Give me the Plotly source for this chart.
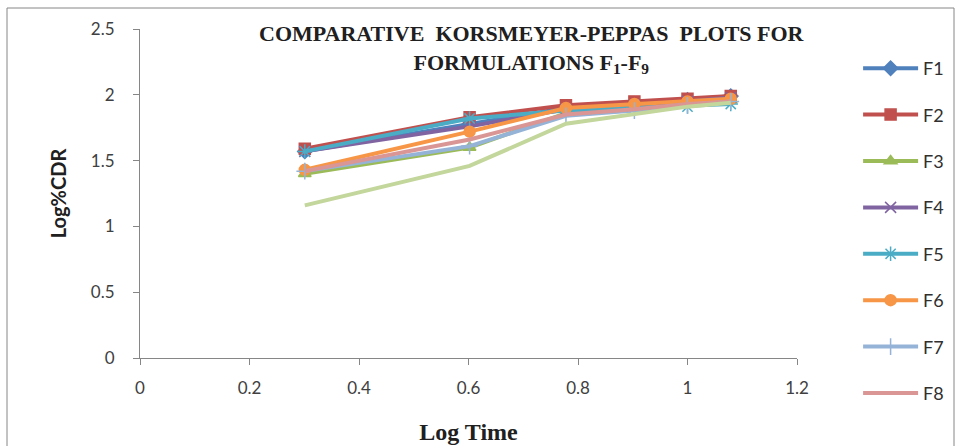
import plotly.graph_objects as go

# Log time (log of 2, 4, 6, 8, 10, 12 h)
log_time = [0.301, 0.602, 0.778, 0.903, 1.0, 1.079]

# Log % cumulative drug release per formulation
f1 = [1.57, 1.78, 1.90, 1.93, 1.96, 1.99]
f2 = [1.59, 1.83, 1.92, 1.95, 1.97, 1.99]
f3 = [1.40, 1.60, 1.86, 1.90, 1.93, 1.96]
f4 = [1.57, 1.76, 1.89, 1.92, 1.95, 1.98]
f5 = [1.57, 1.82, 1.88, 1.90, 1.91, 1.93]
f6 = [1.43, 1.72, 1.90, 1.93, 1.95, 1.97]
f7 = [1.42, 1.61, 1.84, 1.88, 1.92, 1.95]
f8 = [1.42, 1.66, 1.85, 1.89, 1.93, 1.95]
f9 = [1.16, 1.46, 1.78, 1.85, 1.91, 1.94]

series = [
    ("F1", f1, "#4F81BD", "diamond", 11, True),
    ("F2", f2, "#C0504D", "square", 11, True),
    ("F3", f3, "#9BBB59", "triangle-up", 11, True),
    ("F4", f4, "#8064A2", "x-thin-open", 11, True),
    ("F5", f5, "#4BACC6", "asterisk-open", 12, True),
    ("F6", f6, "#F79646", "circle", 11, True),
    ("F7", f7, "#95B3D7", "cross-thin-open", 12, True),
    ("F8", f8, "#D99694", None, 0, True),
    ("F9", f9, "#C3D69B", None, 0, False),
]

fig = go.Figure()
for name, vals, color, symbol, size, in_legend in series:
    if symbol:
        mode = "lines+markers"
        marker = dict(symbol=symbol, size=size, color=color,
                      line=dict(color=color, width=1.5))
    else:
        mode = "lines"
        marker = None
    fig.add_trace(go.Scatter(
        x=log_time, y=vals, name=name, mode=mode,
        line=dict(color=color, width=4),
        marker=marker, legendgroup=name, showlegend=in_legend,
    ))

tick_font = dict(family="Lato, Open Sans, sans-serif", size=17, color="#404040")
serif = "Liberation Serif, Times New Roman, serif"

PLOT_L, PLOT_R, PLOT_T, PLOT_B = 140, 797, 29, 358
W = PLOT_R - PLOT_L
H = PLOT_B - PLOT_T

fig.update_layout(
    width=960, height=446,
    margin=dict(l=PLOT_L, r=960 - PLOT_R, t=PLOT_T, b=446 - PLOT_B, autoexpand=False),
    paper_bgcolor="white", plot_bgcolor="white",
    showlegend=True,
    legend=dict(
        x=1.093, xanchor="left", y=1 - 21 / H, yanchor="top",
        font=dict(family="Lato, Open Sans, sans-serif", size=18, color="#303030"),
        itemwidth=55, tracegroupgap=20, bgcolor="rgba(0,0,0,0)",
        maxheight=440,
    ),
    xaxis=dict(
        range=[0, 1.2], tickvals=[0, 0.2, 0.4, 0.6, 0.8, 1, 1.2],
        ticktext=["0", "0.2", "0.4", "0.6", "0.8", "1", "1.2"],
        showgrid=False, zeroline=False, showline=True, linecolor="#868686",
        linewidth=1, ticks="outside", ticklen=6, tickcolor="#868686",
        tickfont=tick_font, ticklabelstandoff=9,
        title=dict(text="<b>Log Time</b>",
                   font=dict(family=serif, size=24, color="#202020"),
                   standoff=25),
    ),
    yaxis=dict(
        range=[0, 2.5], tickvals=[0, 0.5, 1, 1.5, 2, 2.5],
        ticktext=["0", "0.5", "1", "1.5", "2", "2.5"],
        showgrid=False, zeroline=False, showline=True, linecolor="#868686",
        linewidth=1, ticks="outside", ticklen=6, tickcolor="#868686",
        tickfont=tick_font, ticklabelstandoff=15,
        title=dict(text="<b>Log%CDR</b>",
                   font=dict(family="Lato, Open Sans, sans-serif", size=20, color="#202020"),
                   standoff=18),
    ),
)

# Chart title drawn over the plot area
fig.add_annotation(
    x=(532 - PLOT_L) / W, xref="paper", y=1 - (49 - PLOT_T) / H, yref="paper",
    text="<b>COMPARATIVE  KORSMEYER-PEPPAS  PLOTS FOR<br>FORMULATIONS F<sub>1</sub>-F<sub>9</sub></b>",
    showarrow=False, align="center", borderpad=0,
    font=dict(family=serif, size=22, color="#202020"),
    xanchor="center", yanchor="middle",
)

# Outer chart border
fig.add_shape(
    type="rect", xref="paper", yref="paper",
    x0=(7 - PLOT_L) / W, x1=(954 - PLOT_L) / W,
    y0=-0.35, y1=1 + 21 / H,
    line=dict(color="#868686", width=1), fillcolor="rgba(0,0,0,0)", layer="below",
)

fig.write_html("out.html")
